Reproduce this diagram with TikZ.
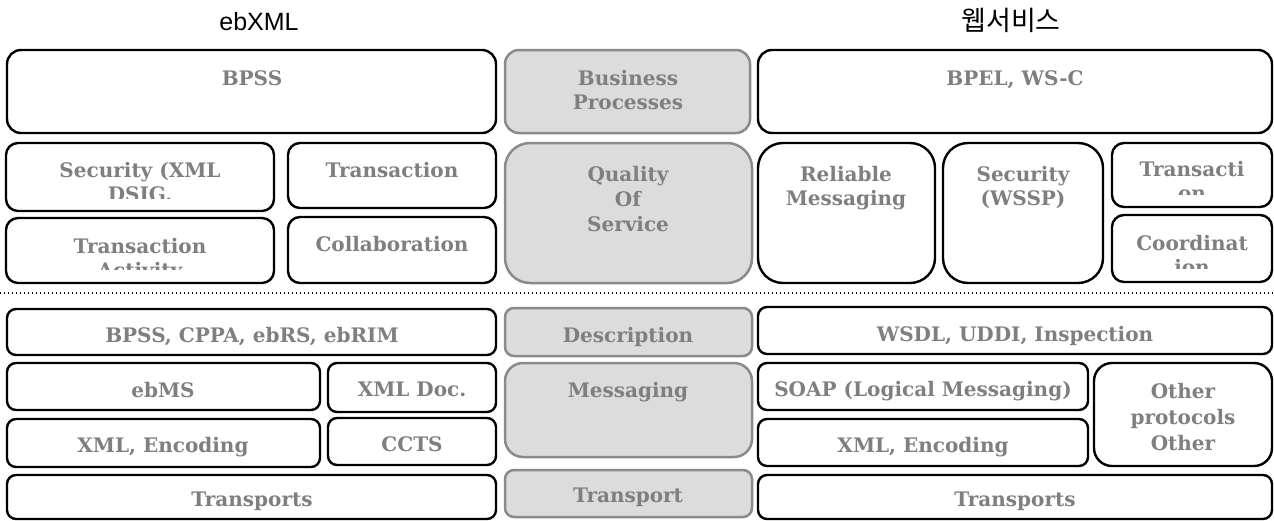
\documentclass[tikz,border=0pt]{standalone}
\usepackage{fontspec}
\setmainfont{Liberation Sans}
\newfontfamily\serifb{DejaVu Serif}
\newfontfamily\krfont{Noto Sans CJK KR}
\usetikzlibrary{calc}
\definecolor{txtgray}{HTML}{7F7F7F}
\definecolor{edgegray}{HTML}{8A8A8A}
\definecolor{fillgray}{HTML}{DCDCDC}
\tikzset{
  blk/.style={draw=black, line width=2.4pt, fill=white, inner sep=0pt, outer sep=0pt},
  gry/.style={draw=edgegray, line width=2.5pt, fill=fillgray, inner sep=0pt, outer sep=0pt},
  lbl/.style={text=txtgray, font=\serifb\bfseries\fontsize{20}{24.5}\selectfont, align=center, inner sep=0pt, anchor=north},
  title/.style={text=black, inner sep=0pt},
  sep/.style={line width=1.8pt, dash pattern=on 1.4pt off 2.6pt},
}
% name, x1, y1, x2, y2, radius, style
\newcommand\boxat[7]{\node[#7, rounded corners=#6, anchor=north west, minimum width={#4-#2}, minimum height={#5-#3}] (#1) at (#2,#3) {};}
\begin{document}
\begin{tikzpicture}[x=1pt,y=-1pt]
\useasboundingbox (0,0) rectangle (1274,520);
\fill[white] (0,0) rectangle (1274,520);

% titles
\node[title, font=\fontsize{25}{28}\selectfont] (t1) at (259,22) {ebXML};
\node[title, font=\krfont\fontsize{27}{30}\selectfont] (t2) at (1011,20) {웹서비스};

% row 1
\boxat{bpss}{7}{50}{496}{133}{14pt}{blk}
\boxat{bp}{505}{50}{750}{133}{14pt}{gry}
\boxat{bpel}{758}{50}{1272}{133}{14pt}{blk}
\node[lbl] (bpss-t) at (252,70) {BPSS};
\node[lbl] (bp-t) at (628,70) {Business\\Processes};
\node[lbl] (bpel-t) at (1015,70) {BPEL, WS-C};

% row 2
\boxat{sec}{6}{143}{274}{211}{12pt}{blk}
\boxat{trn}{288}{143}{496}{208}{12pt}{blk}
\boxat{ta}{6}{218}{274}{283}{12pt}{blk}
\boxat{col}{288}{217}{496}{283}{12pt}{blk}
\boxat{qos}{505}{143}{752}{283}{25pt}{gry}
\boxat{rel}{758}{143}{935}{283}{25pt}{blk}
\boxat{wssp}{943}{143}{1103}{283}{25pt}{blk}
\boxat{trr}{1112}{143}{1272}{207}{12pt}{blk}
\boxat{coo}{1112}{215}{1272}{282}{12pt}{blk}

\begin{scope}
\clip (6,143) rectangle (274,198);
\node[lbl] (sec-t) at (140,162) {Security (XML\\DSIG.};
\end{scope}
\node[lbl] (trn-t) at (392,162) {Transaction};
\begin{scope}
\clip (6,218) rectangle (274,269);
\node[lbl] (ta-t) at (140,238) {Transaction\\Activity};
\end{scope}
\node[lbl] (col-t) at (392,236) {Collaboration};
\node[lbl, font=\serifb\bfseries\fontsize{20}{25}\selectfont] (qos-t) at (628,166) {Quality\\Of\\Service};
\node[lbl] (rel-t) at (846,166) {Reliable\\Messaging};
\node[lbl] (wssp-t) at (1023,166) {Security\\(WSSP)};
\begin{scope}
\clip (1112,143) rectangle (1272,194);
\node[lbl] (trr-t) at (1192,161) {Transacti\\on};
\end{scope}
\begin{scope}
\clip (1112,215) rectangle (1272,268);
\node[lbl] (coo-t) at (1192,235) {Coordinat\\ion};
\end{scope}

% separator
\coordinate (sepL) at (0,293);
\coordinate (sepR) at (1274,293);
\draw[sep] (sepL) -- (sepR);

% lower rows
\boxat{cppa}{7}{309}{496}{355}{9pt}{blk}
\boxat{desc}{505}{308}{752}{356}{9pt}{gry}
\boxat{wsdl}{758}{307}{1272}{354}{9pt}{blk}
\node[lbl] (cppa-t) at (252,327) {BPSS, CPPA, ebRS, ebRIM};
\node[lbl] (desc-t) at (628,327) {Description};
\node[lbl] (wsdl-t) at (1015,326) {WSDL, UDDI, Inspection};

\boxat{ebms}{7}{363}{320}{410}{9pt}{blk}
\boxat{xdoc}{328}{363}{496}{412}{9pt}{blk}
\boxat{msg}{505}{363}{752}{457}{18pt}{gry}
\boxat{soap}{758}{363}{1088}{410}{9pt}{blk}
\boxat{other}{1094}{363}{1272}{466}{18pt}{blk}
\node[lbl] (ebms-t) at (163,382) {ebMS};
\node[lbl] (xdoc-t) at (412,382) {XML Doc.};
\node[lbl] (msg-t) at (628,382) {Messaging};
\node[lbl] (soap-t) at (923,381) {SOAP (Logical Messaging)};
\node[lbl, font=\serifb\bfseries\fontsize{20}{26}\selectfont] (other-t) at (1183,383) {Other\\protocols\\Other};

\boxat{xenc}{7}{419}{320}{467}{9pt}{blk}
\boxat{ccts}{328}{418}{496}{465}{9pt}{blk}
\boxat{xenc2}{758}{419}{1088}{466}{9pt}{blk}
\node[lbl] (xenc-t) at (163,437) {XML, Encoding};
\node[lbl] (ccts-t) at (412,436) {CCTS};
\node[lbl] (xenc2-t) at (923,437) {XML, Encoding};

\boxat{trl}{7}{475}{496}{519}{9pt}{blk}
\boxat{trg}{505}{470}{752}{517}{9pt}{gry}
\boxat{trr2}{758}{475}{1272}{519}{9pt}{blk}
\node[lbl] (trl-t) at (252,492) {Transports};
\node[lbl] (trg-t) at (628,488) {Transport};
\node[lbl] (trr2-t) at (1015,492) {Transports};
\end{tikzpicture}
\end{document}
